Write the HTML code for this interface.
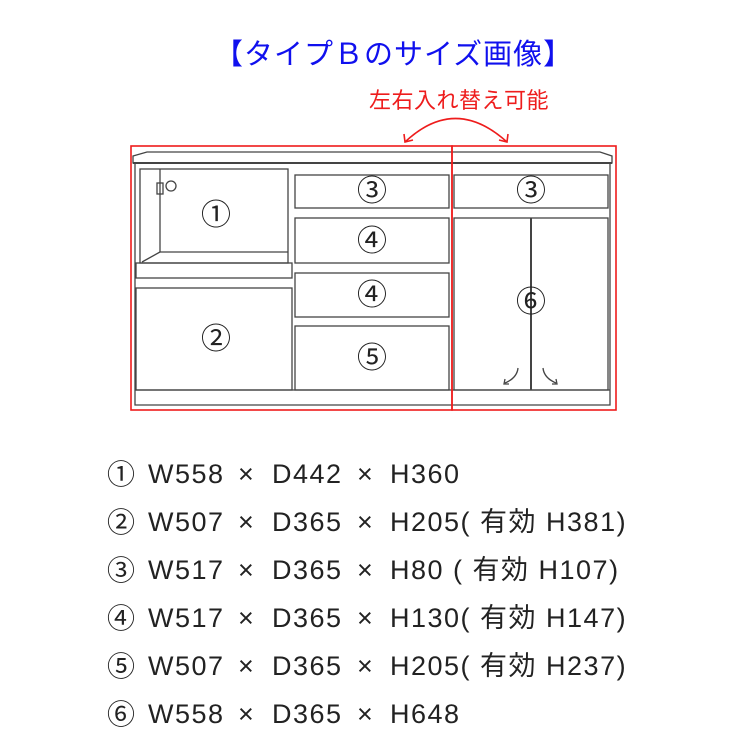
<!DOCTYPE html>
<html><head><meta charset="utf-8"><style>
body{margin:0;width:750px;height:750px;background:#fff;position:relative;overflow:hidden;font-family:"Liberation Sans","Noto Sans CJK JP",sans-serif}
.t{position:absolute;white-space:nowrap}
.r{position:absolute;font-size:27px;color:#222;line-height:1;letter-spacing:1.5px;white-space:nowrap}
.c{font-size:28px;letter-spacing:0}
</style></head><body>
<div class="t" style="left:214px;top:31px;font-size:29px;letter-spacing:1px;color:#1010ee;">【タイプＢのサイズ画像】</div>
<div class="t" style="left:369px;top:83px;font-size:22px;letter-spacing:0.5px;color:#ee1c1c;">左右入れ替え可能</div>
<svg width="750" height="750" style="position:absolute;left:0;top:0">
<g fill="none" stroke="#444" stroke-width="1.3">
<path d="M133 163 L133 156 L147 152 L600 152 L612 156 L612 163 Z"/>
<line x1="133" y1="163" x2="612" y2="163" stroke-width="2"/>
<path d="M135 163 L135 405 L610 405 L610 163"/>
<rect x="140" y="169" width="148" height="94"/>
<line x1="160" y1="169" x2="160" y2="252"/>
<line x1="160" y1="252" x2="288" y2="252"/>
<line x1="160" y1="252" x2="142" y2="262"/>
<rect x="157" y="183" width="6" height="11"/>
<circle cx="171" cy="186" r="5"/>
<rect x="136" y="263" width="156" height="15"/>
<rect x="136" y="288" width="156" height="102"/>
<rect x="295" y="175" width="154" height="33"/>
<rect x="295" y="218" width="154" height="45"/>
<rect x="295" y="273" width="154" height="44"/>
<rect x="295" y="326" width="154" height="64"/>
<line x1="135" y1="390" x2="610" y2="390"/>
<rect x="454" y="175" width="154" height="33"/>
<rect x="454" y="218" width="154" height="172"/>
<line x1="531" y1="218" x2="531" y2="390" stroke-width="2"/>
<path d="M518 368 Q517 378 505 383"/><path d="M505 379 L504 384 L509 384"/>
<path d="M543 368 Q544 378 556 383"/><path d="M556 379 L557 384 L552 384"/>
</g>
<g fill="none" stroke="#ee1c1c" stroke-width="1.6">
<rect x="131" y="146" width="321" height="264"/>
<rect x="452" y="146" width="164" height="264"/>
<path d="M405 142 Q455 95 507 142"/>
<path d="M404 134 L405 142 L413 140"/>
<path d="M508 134 L507 142 L499 140"/>
</g>
<g font-family="Liberation Sans, Noto Sans CJK JP, sans-serif" font-size="30" fill="#222" text-anchor="middle">
<text x="216" y="225">①</text>
<text x="216" y="349">②</text>
<text x="372" y="201">③</text>
<text x="372" y="251">④</text>
<text x="372" y="305">④</text>
<text x="372" y="368">⑤</text>
<text x="531" y="201">③</text>
<text x="531" y="312">⑥</text>
</g>
</svg>
<div class="r c" style="left:107px;top:461px">①</div><div class="r" style="left:148px;top:461px">W558</div><div class="r" style="left:238px;top:461px">×</div><div class="r" style="left:272px;top:461px">D442</div><div class="r" style="left:357px;top:461px">×</div><div class="r" style="left:390px;top:461px">H360</div>
<div class="r c" style="left:107px;top:509px">②</div><div class="r" style="left:148px;top:509px">W507</div><div class="r" style="left:238px;top:509px">×</div><div class="r" style="left:272px;top:509px">D365</div><div class="r" style="left:357px;top:509px">×</div><div class="r" style="left:390px;top:509px">H205( 有効 H381)</div>
<div class="r c" style="left:107px;top:557px">③</div><div class="r" style="left:148px;top:557px">W517</div><div class="r" style="left:238px;top:557px">×</div><div class="r" style="left:272px;top:557px">D365</div><div class="r" style="left:357px;top:557px">×</div><div class="r" style="left:390px;top:557px">H80 ( 有効 H107)</div>
<div class="r c" style="left:107px;top:605px">④</div><div class="r" style="left:148px;top:605px">W517</div><div class="r" style="left:238px;top:605px">×</div><div class="r" style="left:272px;top:605px">D365</div><div class="r" style="left:357px;top:605px">×</div><div class="r" style="left:390px;top:605px">H130( 有効 H147)</div>
<div class="r c" style="left:107px;top:653px">⑤</div><div class="r" style="left:148px;top:653px">W507</div><div class="r" style="left:238px;top:653px">×</div><div class="r" style="left:272px;top:653px">D365</div><div class="r" style="left:357px;top:653px">×</div><div class="r" style="left:390px;top:653px">H205( 有効 H237)</div>
<div class="r c" style="left:107px;top:701px">⑥</div><div class="r" style="left:148px;top:701px">W558</div><div class="r" style="left:238px;top:701px">×</div><div class="r" style="left:272px;top:701px">D365</div><div class="r" style="left:357px;top:701px">×</div><div class="r" style="left:390px;top:701px">H648</div>
</body></html>
